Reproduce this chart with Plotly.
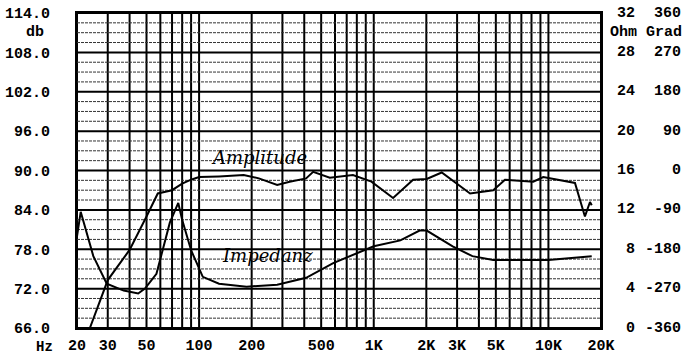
import numpy as np
import plotly.graph_objects as go

# ---- data ----
amp_freq = [20, 23.7, 30, 40, 50, 58, 70, 80, 90, 100, 130, 180, 220, 280, 330, 410, 450,
            560, 760, 970, 1290, 1680, 2010, 2450, 3560, 4830, 5640, 8190, 9340, 12700,
            14190, 16180, 17300, 17700]
amp_db = [66.0, 66.0, 73.3, 77.9, 83.0, 86.5, 87.0, 88.0, 88.6, 89.0, 89.1, 89.3, 88.8, 87.8,
          88.3, 88.8, 89.8, 88.9, 89.3, 88.3, 85.8, 88.6, 88.7, 89.7, 86.5, 87.0, 88.6, 88.3,
          89.0, 88.3, 88.1, 83.0, 85.2, 84.7]

imp_freq = [20, 21, 24.8, 29.6, 37, 44.8, 49, 57, 68, 76, 80, 90, 105, 130, 187, 280, 410,
            586, 1000, 1420, 1830, 2010, 2830, 3670, 4830, 10000, 17700]
imp_ohm = [9.3, 11.8, 7.3, 4.5, 3.8, 3.5, 4.0, 5.5, 10.7, 12.7, 11.0, 7.9, 5.2, 4.5, 4.2, 4.4,
           5.1, 6.6, 8.3, 8.9, 9.9, 9.9, 8.3, 7.3, 6.9, 6.9, 7.3]

db_ticks = [66, 72, 78, 84, 90, 96, 102, 108, 114]
db_labels = ["66.0", "72.0", "78.0", "84.0", "90.0", "96.0", "102.0", "108.0", "114.0"]
ohm_ticks = [0, 4, 8, 12, 16, 20, 24, 28, 32]
grad_labels = ["-360", "-270", "-180", "-90", "0", "90", "180", "270", "360"]
hz_ticks = [20, 30, 50, 100, 200, 500, 1000, 2000, 3000, 5000, 10000, 20000]
hz_labels = ["20", "30", "50", "100", "200", "500", "1K", "2K", "3K", "5K", "10K", "20K"]

F_MIN, F_MAX = 20, 20000
DB_MIN, DB_MAX = 66, 114

FONT = dict(family="Liberation Mono", size=15, color="black", weight="bold")
FONT_HZ = dict(family="Liberation Mono", size=14, color="black", weight="bold")

fig = go.Figure()

# vertical grid lines (1-2-3-...-9 per decade)
vfreqs = []
for dec in [10, 100, 1000, 10000]:
    for m in range(1, 10):
        f = m * dec
        if F_MIN <= f <= F_MAX:
            vfreqs.append(f)
vx, vy = [], []
for f in vfreqs:
    vx += [f, f, None]
    vy += [DB_MIN, DB_MAX, None]
fig.add_trace(go.Scatter(x=vx, y=vy, mode="lines", line=dict(color="black", width=2),
                         hoverinfo="skip", showlegend=False))

# minor dotted horizontal grid lines every 1.5 dB
mx, my = [], []
for v in np.arange(DB_MIN, DB_MAX + 0.01, 1.5):
    if v not in db_ticks:
        mx += [F_MIN, F_MAX, None]
        my += [v, v, None]
fig.add_trace(go.Scatter(x=mx, y=my, mode="lines",
                         line=dict(color="#333", width=1, dash="3px,1px"),
                         hoverinfo="skip", showlegend=False))

# major horizontal grid lines
hx, hy = [], []
for v in db_ticks:
    hx += [F_MIN, F_MAX, None]
    hy += [v, v, None]
fig.add_trace(go.Scatter(x=hx, y=hy, mode="lines", line=dict(color="black", width=2),
                         hoverinfo="skip", showlegend=False))

# curves
fig.add_trace(go.Scatter(x=amp_freq, y=amp_db, mode="lines", name="Amplitude",
                         line=dict(color="black", width=2), showlegend=False))
fig.add_trace(go.Scatter(x=imp_freq, y=imp_ohm, mode="lines", name="Impedanz", yaxis="y2",
                         line=dict(color="black", width=2), showlegend=False))

annotations = []
# right-hand labels (Ohm and Grad)
for o, g in zip(ohm_ticks, grad_labels):
    annotations.append(dict(x=1, xref="paper", y=o, yref="y2", text=str(o), showarrow=False,
                            xanchor="right", xshift=36, font=FONT))
    annotations.append(dict(x=1, xref="paper", y=o, yref="y2", text=g, showarrow=False,
                            xanchor="right", xshift=82, font=FONT))
annotations.append(dict(x=1, xref="paper", y=30.0, yref="y2", text="Ohm", showarrow=False,
                        xanchor="right", xshift=38, font=FONT))
annotations.append(dict(x=1, xref="paper", y=30.0, yref="y2", text="Grad", showarrow=False,
                        xanchor="right", xshift=83, font=FONT))
annotations.append(dict(x=0, xref="paper", y=111.0, yref="y", text="db", showarrow=False,
                        xanchor="right", xshift=-31, font=FONT))
annotations.append(dict(x=0, xref="paper", y=0, yref="paper", text="Hz", showarrow=False,
                        xanchor="right", yanchor="top", xshift=-22, yshift=-9, font=FONT_HZ))
# handwritten curve names
HAND = dict(family="DejaVu Serif", size=18, color="black", style="italic")
annotations.append(dict(x=0.348, xref="paper", y=0.54, yref="paper", text="Amplitude",
                        showarrow=False, font=HAND))
annotations.append(dict(x=0.363, xref="paper", y=0.19, yref="paper", text="Impedanz",
                        showarrow=False, font=HAND))

fig.update_layout(
    width=690, height=355,
    margin=dict(l=77, r=89, t=13, b=27, autoexpand=False),
    paper_bgcolor="white", plot_bgcolor="white",
    xaxis=dict(type="log", range=[np.log10(F_MIN), np.log10(F_MAX)],
               tickvals=hz_ticks, ticktext=hz_labels, showgrid=False, zeroline=False,
               showline=True, linecolor="black", linewidth=2, mirror=True,
               ticks="", tickfont=FONT, ticklabelstandoff=2, automargin=False),
    yaxis=dict(range=[DB_MIN, DB_MAX], tickvals=db_ticks, ticktext=db_labels,
               showgrid=False, zeroline=False, showline=True, linecolor="black",
               linewidth=2, mirror=True, ticks="", tickfont=FONT, ticklabelstandoff=22,
               automargin=False),
    yaxis2=dict(range=[0, 32], overlaying="y", side="right", showgrid=False,
                zeroline=False, showticklabels=False, ticks="", automargin=False),
    annotations=annotations,
    showlegend=False,
)

fig.write_html("out.html")
